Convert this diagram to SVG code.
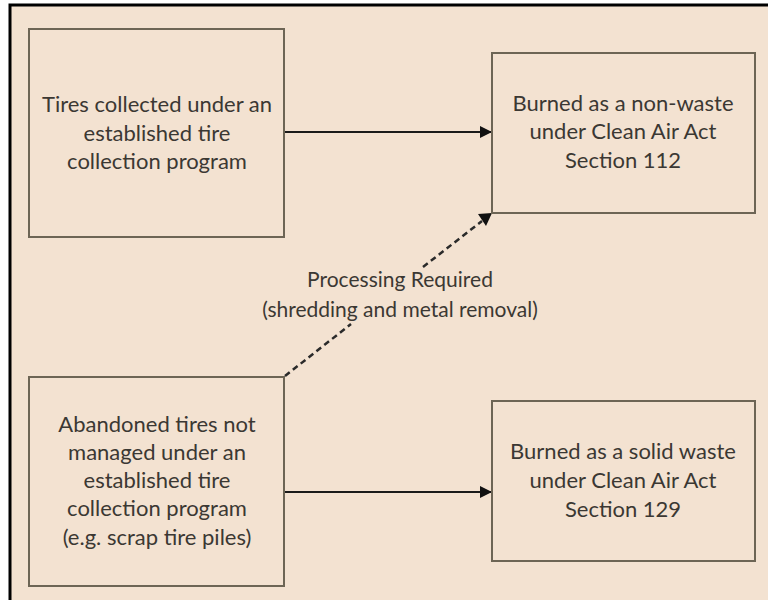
<svg xmlns="http://www.w3.org/2000/svg" width="768" height="600" viewBox="0 0 768 600">
<defs>
<style>
.bg{fill:#f3e2d1}
.box{fill:#f3e2d1;stroke:#6d6555;stroke-width:2}
.t{font-family:Lato,"Open Sans","Liberation Sans",sans-serif;font-size:22px;fill:#3b3833;text-anchor:middle}
.l{font-size:21px}
.c{stroke:#1a1a1a;stroke-width:2.2;fill:none}
.d{stroke:#2a2a2a;stroke-width:2.5;fill:none;stroke-dasharray:6,4}
</style>
<marker id="ah" markerWidth="12" markerHeight="12" refX="11" refY="6" orient="auto" markerUnits="userSpaceOnUse">
<path d="M0,0 L12,6 L0,12 Z" fill="#111"/>
</marker>
</defs>
<rect x="0" y="0" width="768" height="600" fill="#ffffff"/>
<rect class="bg" x="10" y="5" width="770" height="600"/>
<path d="M10,605 L10,5 L780,5" fill="none" stroke="#000" stroke-width="3"/>
<g id="connectors">
<line class="c" x1="284" y1="132" x2="491" y2="132" marker-end="url(#ah)"/>
<line class="c" x1="284" y1="492" x2="491" y2="492" marker-end="url(#ah)"/>
<line class="d" x1="285" y1="376" x2="351" y2="324"/>
<line class="d" x1="423" y1="267" x2="482" y2="221"/>
<path d="M478,214 L492,213 L486,226 Z" fill="#111"/>
<g id="label-processing">
<text class="t l" x="400" y="287">Processing Required</text>
<text class="t l" x="400" y="317">(shredding and metal removal)</text>
</g>
</g>
<g id="n1">
<rect class="box" x="29" y="29" width="255" height="208"/>
<text class="t" x="157" y="112">Tires collected under an</text>
<text class="t" x="157" y="141">established tire</text>
<text class="t" x="157" y="169">collection program</text>
</g>
<g id="n2">
<rect class="box" x="492" y="53" width="263" height="160"/>
<text class="t" x="623" y="111">Burned as a non-waste</text>
<text class="t" x="623" y="139">under Clean Air Act</text>
<text class="t" x="623" y="168">Section 112</text>
</g>
<g id="n3">
<rect class="box" x="29" y="377" width="255" height="209"/>
<text class="t" x="157" y="432">Abandoned tires not</text>
<text class="t" x="157" y="460">managed under an</text>
<text class="t" x="157" y="488">established tire</text>
<text class="t" x="157" y="516">collection program</text>
<text class="t" x="157" y="545">(e.g. scrap tire piles)</text>
</g>
<g id="n4">
<rect class="box" x="492" y="401" width="263" height="160"/>
<text class="t" x="623" y="459">Burned as a solid waste</text>
<text class="t" x="623" y="488">under Clean Air Act</text>
<text class="t" x="623" y="517">Section 129</text>
</g>
</svg>
